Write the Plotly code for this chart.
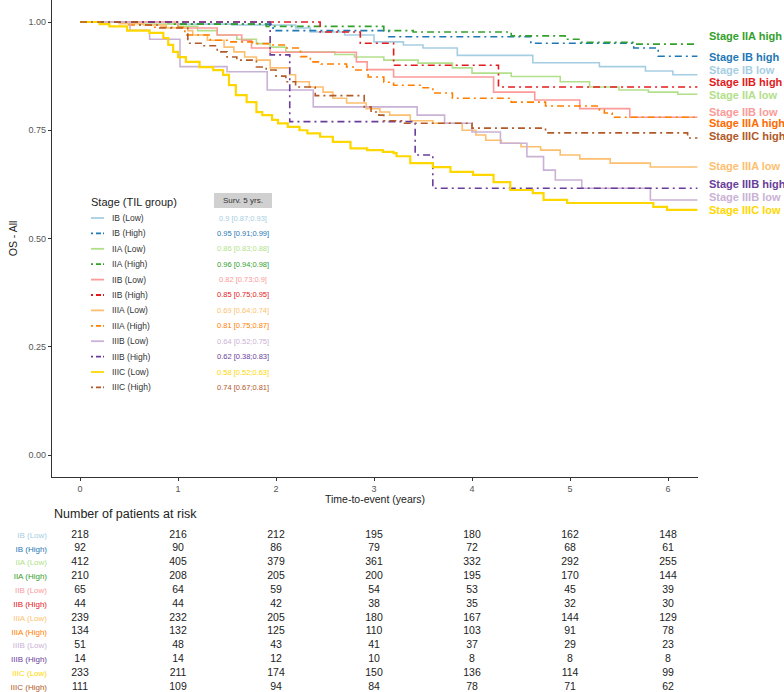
import plotly.graph_objects as go

W, H = 784, 692
ML, MR = 52, 86

GROUPS = ["IB (Low)", "IB (High)", "IIA (Low)", "IIA (High)", "IIB (Low)", "IIB (High)",
          "IIIA (Low)", "IIIA (High)", "IIIB (Low)", "IIIB (High)", "IIIC (Low)", "IIIC (High)"]
COLORS = ["#A6CEE3", "#1F78B4", "#B2DF8A", "#33A02C", "#FB9A99", "#E31A1C",
          "#FDBF6F", "#FF7F00", "#CAB2D6", "#6A3D9A", "#FFD700", "#B15928"]

# Kaplan-Meier step curves (time in years, survival)
IB_LOW_T = [0, 0.9, 1.55, 2.2, 2.35, 2.7, 3.0, 3.3, 3.5, 3.85, 4.62, 5.3, 5.77, 6.05, 6.3]
IB_LOW_S = [1, 0.995, 0.993, 0.986, 0.977, 0.97, 0.954, 0.947, 0.94, 0.923, 0.906, 0.897, 0.887, 0.878, 0.878]
IB_HIGH_T = [0, 0.9, 1.97, 3.15, 4.6, 5.65, 5.9, 6.3]
IB_HIGH_S = [1, 0.995, 0.98, 0.966, 0.951, 0.94, 0.921, 0.921]
IIA_LOW_T = [0, 0.6, 1.0, 1.2, 1.4, 1.6, 1.8, 1.94, 2.1, 2.6, 2.8, 3.1, 3.45, 3.8, 4.0, 4.4, 4.9, 5.2, 5.5, 5.8, 6.1, 6.3]
IIA_LOW_S = [1, 0.995, 0.99, 0.98, 0.97, 0.96, 0.95, 0.942, 0.931, 0.925, 0.919, 0.912, 0.905, 0.894, 0.882, 0.874,
             0.862, 0.85, 0.843, 0.838, 0.833, 0.833]
IIA_HIGH_T = [0, 0.95, 1.9, 3.1, 3.4, 4.4, 4.95, 5.1, 5.65, 6.3]
IIA_HIGH_S = [1, 0.995, 0.99, 0.98, 0.977, 0.968, 0.96, 0.953, 0.949, 0.949]
IIB_LOW_T = [0, 1.0, 1.4, 1.65, 1.75, 1.94, 2.82, 2.93, 3.2, 4.22, 4.64, 5.1, 5.61, 6.3]
IIB_LOW_S = [1, 0.986, 0.97, 0.958, 0.94, 0.93, 0.908, 0.89, 0.873, 0.838, 0.82, 0.8, 0.78, 0.78]
IIB_HIGH_T = [0, 2.45, 2.86, 3.2, 4.27, 6.3]
IIB_HIGH_S = [1, 0.977, 0.951, 0.9, 0.85, 0.85]
IIIA_LOW_T = [0, 0.4, 0.65, 0.88, 1.1, 1.15, 1.3, 1.47, 1.57, 1.68, 1.8, 1.94, 2.14, 2.2, 2.34, 2.48, 2.58, 2.72,
              2.92, 3.06, 3.16, 3.37, 3.6, 3.9, 4.04, 4.14, 4.3, 4.5, 4.7, 4.9, 5.1, 5.41, 5.82, 6.3]
IIIA_LOW_S = [1, 0.996, 0.993, 0.986, 0.98, 0.97, 0.958, 0.942, 0.931, 0.919, 0.912, 0.894, 0.878, 0.862, 0.85,
              0.838, 0.824, 0.813, 0.8, 0.792, 0.785, 0.772, 0.766, 0.75, 0.739, 0.727, 0.72, 0.712, 0.704, 0.693,
              0.684, 0.674, 0.665, 0.665]
IIIA_HIGH_T = [0, 0.5, 0.75, 1.07, 1.33, 1.5, 1.76, 1.94, 2.1, 2.25, 2.35, 2.46, 2.72, 2.8, 2.94, 3.1, 3.2, 3.47,
               3.6, 3.8, 4.4, 4.75, 5.3, 5.35, 5.43, 6.3]
IIIA_HIGH_S = [1, 0.993, 0.988, 0.97, 0.958, 0.954, 0.95, 0.947, 0.94, 0.92, 0.908, 0.903, 0.896, 0.889, 0.873,
               0.861, 0.854, 0.848, 0.836, 0.824, 0.815, 0.806, 0.797, 0.79, 0.78, 0.78]
IIIB_LOW_T = [0, 0.51, 0.71, 1.02, 1.5, 1.91, 2.38, 3.44, 3.72, 4.0, 4.29, 4.56, 4.73, 4.85, 5.12, 5.82, 6.3]
IIIB_LOW_S = [1, 0.981, 0.96, 0.897, 0.885, 0.843, 0.804, 0.785, 0.766, 0.746, 0.72, 0.689, 0.658, 0.635, 0.616,
              0.589, 0.589]
IIIB_HIGH_T = [0, 1.94, 2.14, 3.42, 3.6, 6.3]
IIIB_HIGH_S = [1, 0.924, 0.77, 0.693, 0.616, 0.616]
IIIC_LOW_T = [0, 0.2, 0.3, 0.48, 0.71, 0.85, 0.9, 0.95, 1.0, 1.08, 1.22, 1.36, 1.46, 1.52, 1.59, 1.7, 1.8, 1.86,
              1.96, 2.02, 2.12, 2.24, 2.32, 2.45, 2.58, 2.76, 2.93, 3.09, 3.2, 3.23, 3.37, 3.6, 3.78, 4.01, 4.22,
              4.39, 4.62, 4.73, 4.97, 5.85, 5.99, 6.3]
IIIC_LOW_S = [1, 0.995, 0.99, 0.98, 0.975, 0.963, 0.947, 0.931, 0.919, 0.908, 0.896, 0.889, 0.878, 0.854, 0.831,
              0.815, 0.792, 0.785, 0.774, 0.766, 0.758, 0.75, 0.743, 0.735, 0.723, 0.708, 0.704, 0.7, 0.697, 0.69,
              0.674, 0.665, 0.654, 0.647, 0.63, 0.612, 0.605, 0.589, 0.582, 0.573, 0.566, 0.566]
IIIC_HIGH_T = [0, 0.6, 0.8, 1.1, 1.25, 1.4, 1.5, 1.6, 1.8, 1.9, 2.0, 2.1, 2.2, 2.4, 2.9, 2.97, 3.05, 3.1, 3.3,
               4.0, 4.75, 6.2, 6.3]
IIIC_HIGH_S = [1, 0.993, 0.986, 0.951, 0.945, 0.931, 0.919, 0.912, 0.896, 0.889, 0.875, 0.862, 0.85, 0.83,
               0.804, 0.792, 0.785, 0.772, 0.766, 0.755, 0.744, 0.732, 0.732]

CURVES_T = [IB_LOW_T, IB_HIGH_T, IIA_LOW_T, IIA_HIGH_T, IIB_LOW_T, IIB_HIGH_T,
            IIIA_LOW_T, IIIA_HIGH_T, IIIB_LOW_T, IIIB_HIGH_T, IIIC_LOW_T, IIIC_HIGH_T]
CURVES_S = [IB_LOW_S, IB_HIGH_S, IIA_LOW_S, IIA_HIGH_S, IIB_LOW_S, IIB_HIGH_S,
            IIIA_LOW_S, IIIA_HIGH_S, IIIB_LOW_S, IIIB_HIGH_S, IIIC_LOW_S, IIIC_HIGH_S]

SURV_5Y = ["0.9 [0.87;0.93]", "0.95 [0.91;0.99]", "0.86 [0.83;0.88]", "0.96 [0.94;0.98]",
           "0.82 [0.73;0.9]", "0.85 [0.75;0.95]", "0.69 [0.64;0.74]", "0.81 [0.75;0.87]",
           "0.64 [0.52;0.75]", "0.62 [0.38;0.83]", "0.58 [0.52;0.63]", "0.74 [0.67;0.81]"]

RISK_TIMES = [0, 1, 2, 3, 4, 5, 6]
AT_RISK = [
    [218, 216, 212, 195, 180, 162, 148],
    [92, 90, 86, 79, 72, 68, 61],
    [412, 405, 379, 361, 332, 292, 255],
    [210, 208, 205, 200, 195, 170, 144],
    [65, 64, 59, 54, 53, 45, 39],
    [44, 44, 42, 38, 35, 32, 30],
    [239, 232, 205, 180, 167, 144, 129],
    [134, 132, 125, 110, 103, 91, 78],
    [51, 48, 43, 41, 37, 29, 23],
    [14, 14, 12, 10, 8, 8, 8],
    [233, 211, 174, 150, 136, 114, 99],
    [111, 109, 94, 84, 78, 71, 62],
]

# end-of-curve labels (top to bottom), with the group index they describe
END_LABELS = ["Stage IIA high", "Stage IB high", "Stage IB low", "Stage IIB high", "Stage IIA low",
              "Stage IIB low", "Stage IIIA high", "Stage IIIC high", "Stage IIIA low", "Stage IIIB high",
              "Stage IIIB low", "Stage IIIC low"]
END_LABEL_GROUP = [3, 1, 0, 5, 2, 4, 7, 11, 6, 9, 8, 10]
END_LABEL_PY = [36, 57, 70, 82, 95, 112, 123, 136, 166, 184, 197, 210]

FONT = "Liberation Sans, Arial, sans-serif"
DASH_HIGH = "7px,4px,2px,4px"


def px2x(px):
    return (px - ML) / (W - ML - MR)


def py2y(py):
    return 1 - py / H


fig = go.Figure()

for i, name in enumerate(GROUPS):
    high = "High" in name
    fig.add_trace(go.Scatter(
        x=CURVES_T[i], y=CURVES_S[i], mode="lines",
        line={"shape": "hv", "color": COLORS[i], "width": 2.2 if i == 10 else 1.6,
              "dash": DASH_HIGH if high else "solid"},
        name=name, showlegend=False, hoverinfo="skip",
    ))

# risk table
for i, row in enumerate(AT_RISK):
    fig.add_trace(go.Scatter(
        x=RISK_TIMES, y=[i] * len(RISK_TIMES), mode="text", text=[str(v) for v in row],
        textfont={"size": 10.5, "color": "#222222", "family": FONT},
        xaxis="x2", yaxis="y2", showlegend=False, hoverinfo="skip", cliponaxis=False,
    ))

shapes = []
annotations = []

# in-plot legend
annotations.append(dict(text="Stage (TIL group)", x=px2x(89), y=py2y(202), xref="paper", yref="paper",
                        xanchor="left", yanchor="middle", showarrow=False,
                        font={"size": 11, "color": "#222222", "family": FONT}))
shapes.append(dict(type="rect", xref="paper", yref="paper", x0=px2x(214), x1=px2x(272),
                   y0=py2y(193), y1=py2y(208), fillcolor="#D0D0D0", line={"width": 0}))
annotations.append(dict(text="Surv. 5 yrs.", x=px2x(243), y=py2y(200.5), xref="paper", yref="paper",
                        xanchor="center", yanchor="middle", showarrow=False,
                        font={"size": 8, "color": "#333333", "family": FONT}))
for i, name in enumerate(GROUPS):
    py = 218 + i * 15.4
    high = "High" in name
    shapes.append(dict(type="line", xref="paper", yref="paper", x0=px2x(91), x1=px2x(104),
                       y0=py2y(py), y1=py2y(py),
                       line={"color": COLORS[i], "width": 1.8, "dash": "2px,3px,5px" if high else "solid"}))
    annotations.append(dict(text=name, x=px2x(110), y=py2y(py), xref="paper", yref="paper",
                            xanchor="left", yanchor="middle", showarrow=False,
                            font={"size": 8.5, "color": "#333333", "family": FONT}))
    annotations.append(dict(text=SURV_5Y[i], x=px2x(243), y=py2y(py), xref="paper", yref="paper",
                            xanchor="center", yanchor="middle", showarrow=False,
                            font={"size": 7.5, "color": COLORS[i], "family": FONT}))

# curve end labels
for lab, g, py in zip(END_LABELS, END_LABEL_GROUP, END_LABEL_PY):
    annotations.append(dict(text=f"<b>{lab}</b>", x=px2x(707), y=py2y(py), xref="paper", yref="paper",
                            xanchor="left", yanchor="middle", showarrow=False,
                            font={"size": 11, "color": "#FF6A00" if g == 7 else COLORS[g], "family": FONT}))

annotations.append(dict(text="Number of patients at risk", x=0, y=py2y(514), xref="paper", yref="paper",
                        xanchor="left", yanchor="middle", showarrow=False,
                        font={"size": 12.5, "color": "#222222", "family": FONT}))
annotations.append(dict(text="Time-to-event (years)", x=px2x(375), y=py2y(499), xref="paper", yref="paper",
                        xanchor="center", yanchor="middle", showarrow=False,
                        font={"size": 10.5, "color": "#222222", "family": FONT}))

risk_ticktext = [f"<span style='color:{c}'>{g}</span>" for g, c in zip(GROUPS, COLORS)]

fig.update_layout(
    width=W, height=H,
    margin={"l": ML, "r": MR, "t": 0, "b": 0, "autoexpand": False},
    paper_bgcolor="white", plot_bgcolor="white",
    font={"family": FONT},
    xaxis={"range": [-0.286, 6.306], "domain": [0, 1], "anchor": "y", "automargin": False,
           "tickvals": RISK_TIMES, "ticks": "outside", "ticklen": 3, "tickcolor": "#333333",
           "tickfont": {"size": 9, "color": "#555555"}, "showgrid": False, "zeroline": False,
           "showline": True, "linecolor": "#333333", "linewidth": 1.2},
    yaxis={"range": [-0.0508, 1.0508], "domain": [1 - 477 / H, 1], "anchor": "x", "automargin": False,
           "tickvals": [0, 0.25, 0.5, 0.75, 1.0], "ticktext": ["0.00", "0.25", "0.50", "0.75", "1.00"],
           "ticks": "outside", "ticklen": 3, "tickcolor": "#333333",
           "tickfont": {"size": 9, "color": "#555555"}, "showgrid": False, "zeroline": False,
           "showline": True, "linecolor": "#333333", "linewidth": 1.2,
           "title": {"text": "OS - All", "font": {"size": 10.5, "color": "#222222"}, "standoff": 8}},
    xaxis2={"range": [-0.286, 6.306], "domain": [0, 1], "anchor": "y2", "visible": False, "automargin": False},
    yaxis2={"range": [11.36, -1.085], "domain": [0, 1 - 520 / H], "anchor": "x2", "automargin": False,
            "tickvals": list(range(len(GROUPS))), "ticktext": risk_ticktext,
            "tickfont": {"size": 8}, "showgrid": False, "zeroline": False, "showline": False,
            "ticks": "", "ticklabelstandoff": 4},
    shapes=shapes, annotations=annotations,
)

# drop the default 8px body margin so the figure sits at the page corner
fig.write_html("out.html", config={"displayModeBar": False},
               post_script="document.body.style.margin='0';")
